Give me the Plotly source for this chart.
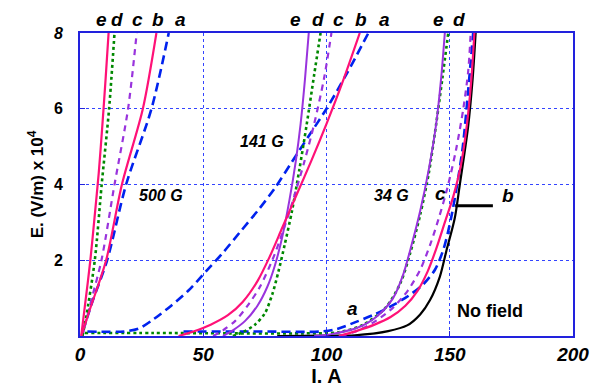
import plotly.graph_objects as go

# ---------------- data ----------------
# 500 G
g500_a_x = [1, 5, 11, 18.7, 29, 36]
g500_a_y = [0.1, 0.9, 2, 4, 6, 8]
g500_b_x = [0.5, 4, 10.6, 17, 25.5, 31]
g500_b_y = [0, 0.7, 2, 4, 6, 8]
g500_c_x = [1, 4, 8.7, 14, 19.5, 23]
g500_c_y = [0, 0.8, 2, 4, 6, 8]
g500_d_x = [1, 2.5, 6, 8.8, 11.8, 14]
g500_d_y = [0, 0.5, 2, 4, 6, 8]
g500_e_x = [0.5, 2, 4.2, 6, 7.6, 9, 10.4, 11.6]
g500_e_y = [0, 0.8, 2, 3.2, 4.3, 5.5, 6.8, 8]

# 141 G
g141_a_x = [3, 18, 24, 30, 37, 44, 51, 58, 65, 72, 79, 86, 93, 100, 108, 117]
g141_a_y = [0.12, 0.12, 0.2, 0.45, 0.8, 1.2, 1.7, 2.2, 2.75, 3.3, 3.9, 4.6, 5.3, 6, 6.9, 8]
g141_b_x = [40, 46, 53, 60, 66, 72, 77, 82, 88, 94, 100, 106.5, 113.5]
g141_b_y = [0, 0.12, 0.3, 0.55, 0.9, 1.45, 2.1, 2.85, 3.75, 4.65, 5.6, 6.7, 8]
g141_c_x = [54, 58, 63, 68, 73, 78, 82, 86.5, 91, 95, 99, 102]
g141_c_y = [0, 0.15, 0.4, 0.8, 1.3, 2, 2.7, 3.6, 4.6, 5.6, 6.8, 8]
g141_d_x = [62, 66, 71, 75, 78, 80.5, 83, 86, 89, 92, 95, 97.6]
g141_d_y = [0, 0.1, 0.3, 0.6, 1.1, 1.7, 2.4, 3.3, 4.4, 5.6, 6.9, 8]
g141_e_x = [58, 62, 67, 72, 76, 79, 82, 85, 87.5, 89.5, 91.3, 92.8]
g141_e_y = [0, 0.15, 0.4, 0.8, 1.3, 1.85, 2.6, 3.6, 4.6, 5.6, 6.8, 8]

# 34 G
g34_a_x = [42, 70, 98, 104, 111.5, 119.5, 126, 133, 139, 144, 147.5, 150.5, 153, 155.3, 157.5, 159.5]
g34_a_y = [0.12, 0.12, 0.12, 0.18, 0.36, 0.57, 0.78, 1.05, 1.35, 1.75, 2.3, 3.1, 4, 5, 6.5, 8]
g34_b_x = [105, 112, 119.5, 126, 132, 137, 141, 144.5, 148, 151.5, 154.5, 157, 158.8, 160]
g34_b_y = [0, 0.13, 0.3, 0.5, 0.8, 1.2, 1.7, 2.3, 3, 3.7, 4.5, 5.6, 6.8, 8]
g34_c_x = [106, 113, 120, 127, 133, 138, 142, 145.5, 149, 152.5, 155.5, 157.5, 158.5]
g34_c_y = [0, 0.15, 0.4, 0.75, 1.2, 1.75, 2.4, 3.1, 3.9, 4.9, 6, 7, 8]
g34_d_x = [2, 30, 60, 90, 105, 115, 124, 130, 134, 138, 141.5, 144.5, 147, 149.4]
g34_d_y = [0.08, 0.08, 0.07, 0.07, 0.1, 0.3, 0.75, 1.4, 2.2, 3.2, 4.3, 5.6, 6.8, 8]
g34_e_x = [95, 102, 113, 121, 127, 131, 134.5, 138, 141.5, 144.5, 146.5, 148]
g34_e_y = [0, 0.05, 0.23, 0.55, 1.0, 1.6, 2.4, 3.3, 4.4, 5.6, 6.8, 8]

# No field
nf_x = [80, 100, 111.5, 125, 132.7, 138, 142, 146, 148.6, 152, 154, 157.4, 159.3, 160.5]
nf_y = [0, 0.01, 0.02, 0.13, 0.28, 0.57, 0.95, 1.57, 2.24, 3.1, 3.96, 5.5, 6.8, 8]

x_tickvals = [0, 50, 100, 150, 200]
x_ticktext = ["<b><i>0</i></b>", "<b><i>50</i></b>", "<b><i>100</i></b>", "<b><i>150</i></b>", "<b><i>200</i></b>"]
y_tickvals = [2, 4, 6, 8]
y_ticktext = ["<b>2</b>", "<b>4</b>", "<b>6</b>", "<b><i>8</i></b>"]

# labels
top_labels_text = ["e", "d", "c", "b", "a", "e", "d", "c", "b", "a", "e", "d"]
top_labels_x = [8.8, 15.1, 23.5, 31.5, 40.6, 87.6, 96.4, 104.8, 114, 123.5, 145.4, 153.8]

# ---------------- styles ----------------
PINK = "#FF1177"
PURPLE = "#9933DD"
GREEN = "#008800"
BLUE = "#0022EE"
AXBLUE = "#2222DD"
GRIDBLUE = "#3344FF"

styles = {
    "a": dict(color=BLUE, width=2.6, dash="9px,5px"),
    "b": dict(color=PINK, width=2.2, dash="solid"),
    "c": dict(color=PURPLE, width=2.2, dash="6px,5px"),
    "d": dict(color=GREEN, width=2.6, dash="3px,3px"),
    "e": dict(color=PURPLE, width=2.0, dash="solid"),
}

fig = go.Figure()

def add(x, y, line):
    fig.add_trace(go.Scatter(x=x, y=y, mode="lines", line=dict(shape="spline", smoothing=0.8, **line),
                             showlegend=False, hoverinfo="skip"))

# draw order
add(g34_d_x, g34_d_y, styles["d"])
add(g34_a_x, g34_a_y, styles["a"])
add(nf_x, nf_y, dict(color="black", width=2.2))
add(g34_c_x, g34_c_y, styles["c"])
add(g34_b_x, g34_b_y, styles["b"])
add(g34_e_x, g34_e_y, styles["e"])

add(g141_a_x, g141_a_y, styles["a"])
add(g141_d_x, g141_d_y, styles["d"])
add(g141_c_x, g141_c_y, styles["c"])
add(g141_e_x, g141_e_y, styles["e"])
add(g141_b_x, g141_b_y, styles["b"])

add(g500_a_x, g500_a_y, styles["a"])
add(g500_c_x, g500_c_y, styles["c"])
add(g500_d_x, g500_d_y, styles["d"])
add(g500_b_x, g500_b_y, styles["b"])
add(g500_e_x, g500_e_y, dict(color=PINK, width=2.2))

FONT = "Liberation Sans, Arial, sans-serif"

annotations = []
for t, xv in zip(top_labels_text, top_labels_x):
    annotations.append(dict(x=xv, y=1.0, xref="x", yref="paper", yanchor="bottom", yshift=1,
                            text=f"<b><i>{t}</i></b>",
                            showarrow=False, font=dict(family=FONT, size=19, color="black")))

for txt, xv, yv, sz in [("<b><i>500 G</i></b>", 33, 3.7, 16),
                        ("<b><i>141 G</i></b>", 74, 5.14, 16),
                        ("<b><i>34 G</i></b>", 126.3, 3.7, 16),
                        ("<b><i>c</i></b>", 146.2, 3.75, 19),
                        ("<b><i>b</i></b>", 173.7, 3.7, 19),
                        ("<b><i>a</i></b>", 110.4, 0.72, 19),
                        ("<b>No field</b>", 166.5, 0.67, 18)]:
    annotations.append(dict(x=xv, y=yv, xref="x", yref="y", text=txt, showarrow=False,
                            font=dict(family=FONT, size=sz, color="black")))

fig.update_layout(
    width=601, height=391,
    margin=dict(l=80, r=19, t=33, b=47),
    paper_bgcolor="white", plot_bgcolor="white",
    annotations=annotations,
    shapes=[dict(type="line", xref="x", yref="y", x0=152.2, x1=167.5, y0=3.44, y1=3.44,
                 line=dict(color="black", width=3))],
    font=dict(family=FONT, color="black"),
)

fig.update_xaxes(range=[0, 200], tickvals=x_tickvals, ticktext=x_ticktext,
                 tickfont=dict(family=FONT, size=19, color="black"),
                 showline=True, linecolor=AXBLUE, linewidth=2, mirror=True,
                 showgrid=True, gridcolor=GRIDBLUE, gridwidth=1, griddash="dot",
                 ticks="inside", ticklen=5, tickcolor=AXBLUE, zeroline=False,
                 title=dict(text="<b>I. A</b>", font=dict(family=FONT, size=20, color="black"), standoff=0))
fig.update_yaxes(range=[0, 8], tickvals=y_tickvals, ticktext=y_ticktext,
                 tickfont=dict(family=FONT, size=16, color="black"),
                 showline=True, linecolor=AXBLUE, linewidth=2, mirror=True,
                 showgrid=True, gridcolor=GRIDBLUE, gridwidth=1, griddash="dot",
                 ticks="inside", ticklen=5, tickcolor=AXBLUE, zeroline=False,
                 ticklabelstandoff=12,
                 title=dict(text="<b>E. (V/m) x 10<sup>4</sup></b>", font=dict(family=FONT, size=17, color="black"),
                            standoff=6))

fig.write_html("out.html")
